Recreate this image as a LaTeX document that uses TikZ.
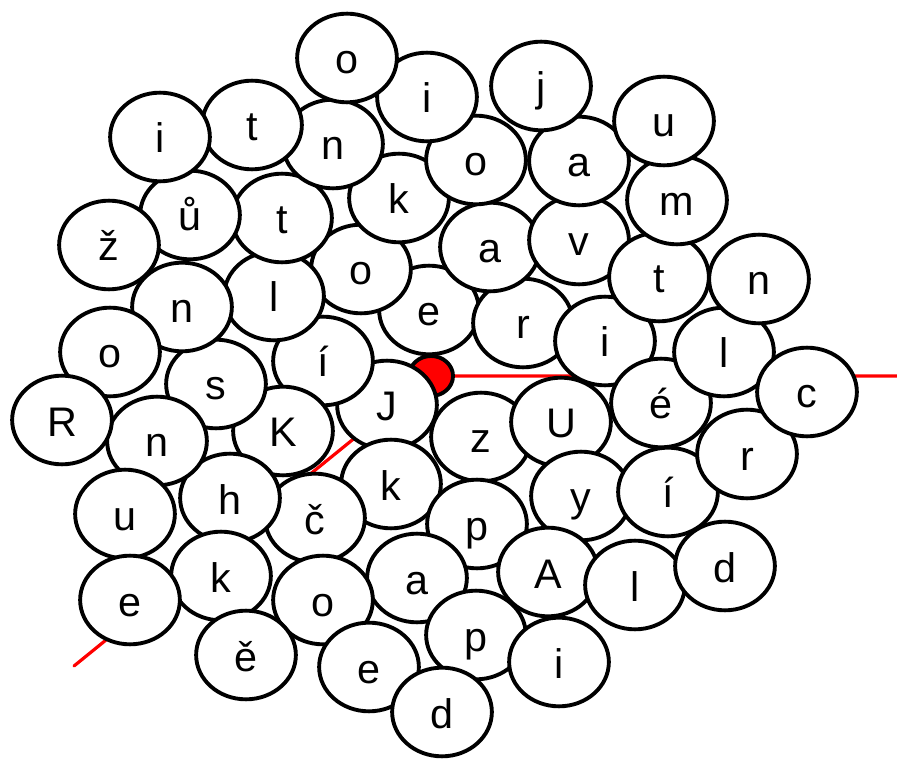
\documentclass[tikz,border=0pt]{standalone}
\usepackage{fontspec}
\setmainfont{Liberation Sans}
\usetikzlibrary{shapes.geometric}

\begin{document}
\begin{tikzpicture}[x=0.75pt,y=-0.75pt]
\tikzstyle{ball}=[draw,ellipse,fill=white,line width=2.9pt,minimum width=74.8pt,minimum height=66.5pt,inner sep=0pt,text height=24pt,text depth=0pt,font=\fontsize{31}{36}\selectfont]
\tikzstyle{knot}=[draw,ellipse,fill=red,line width=2.9pt,minimum width=33pt,minimum height=30pt,inner sep=0pt]
\tikzstyle{thread}=[draw=red,line width=2.4pt,line cap=round]
\useasboundingbox (0,0) rectangle (897,759);
% thread under the letters
\coordinate (left end) at (74,666);
\coordinate (right end) at (897,376);
\coordinate (mid) at (431,376);
\draw[thread] (left end) -- (mid) -- (right end);
\node[knot] (knot) at (mid) {};
% letters, from the centre outwards
\foreach \x/\y/\t [count=\n] in {387/405/J,481/437/z,429/310/e,391/484/k,523/323/r,323/361/í,561/422/U,477/524/p,
  361/269/o,283/431/K,490/247/a,581/496/y,315/518/č,605/341/i,417/578/a,274/296/l,548/572/A,399/198/k,579/240/v,
  661/403/é,216/384/s,230/498/h,323/600/o,476/635/p,282/218/t,476/160/o,668/492/í,659/277/t,635/585/l,182/307/n,
  579/161/a,369/667/e,333/144/n,221/576/k,157/441/n,724/352/l,559/662/i,427/97/i,677/200/m,190/215/ů,747/454/r,
  442/712/d,246/655/ě,541/86/j,725/566/d,252/125/t,110/352/o,125/514/u,759/279/n,347/58/o,664/121/u,109/245/ž,
  807/392/c,130/600/e,62/420/R,160/137/i}
  \node[ball] (b\n) at (\x,\y) {\t};
\end{tikzpicture}
\end{document}
